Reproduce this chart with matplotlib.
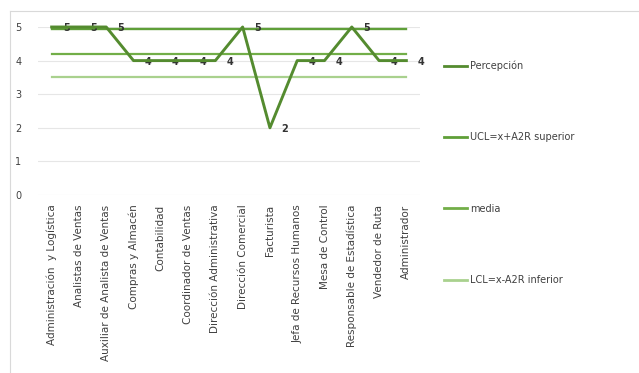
import numpy as np
import matplotlib.pyplot as plt
from matplotlib.lines import Line2D

plt.rcParams['font.family'] = ['DejaVu Sans']

areas = ['Administración  y Logística', 'Analistas de Ventas', 'Auxiliar de Analista de Ventas',
         'Compras y Almacén', 'Contabilidad', 'Coordinador de Ventas', 'Dirección Administrativa',
         'Dirección Comercial', 'Facturista', 'Jefa de Recursos Humanos', 'Mesa de Control',
         'Responsable de Estadística', 'Vendedor de Ruta', 'Administrador']
percepcion = [5, 5, 5, 4, 4, 4, 4, 5, 2, 4, 4, 5, 4, 4]
ucl = 4.93
media = 4.21
lcl = 3.50

c_perc = '#548b2f'
c_ucl = '#5f9f38'
c_media = '#72ae48'
c_lcl = '#a9d18e'

fig = plt.figure(figsize=(6.39, 3.73), dpi=100)
ax = fig.add_axes([38 / 639, 1 - 195 / 373, (420 - 38) / 639, (195 - 27) / 373])

x = np.arange(len(areas))
n = len(areas)
ax.plot(x, [ucl] * n, color=c_ucl, lw=1.7, zorder=3)
ax.plot(x, [media] * n, color=c_media, lw=1.6, zorder=3)
ax.plot(x, [lcl] * n, color=c_lcl, lw=1.6, zorder=3)
ax.plot(x, percepcion, color=c_perc, lw=2.1, zorder=4, clip_on=False)

for xi, v in zip(x, percepcion):
    ax.annotate(str(v), (xi, v), xytext=(8, -1), textcoords='offset points',
                ha='left', va='center', fontsize=7, fontweight='bold', color='#333333')

ax.set_xlim(-0.5, n - 0.5)
ax.set_ylim(0, 5)
ax.set_yticks(range(6))
ax.set_xticks(x)
ax.set_xticklabels(areas, rotation=90, fontsize=7.5, color='#404040')
ax.tick_params(axis='y', labelsize=7, colors='#404040', length=0, pad=12)
ax.tick_params(axis='x', length=0, pad=7)
ax.grid(axis='y', color='#e6e6e6', lw=0.8)
ax.set_axisbelow(True)
for s in ax.spines.values():
    s.set_visible(False)

handles = [Line2D([], [], color=c, lw=2.0) for c in (c_perc, c_ucl, c_media, c_lcl)]
labels = ['Percepción', 'UCL=x+A2R superior', 'media', 'LCL=x-A2R inferior']
leg = fig.legend(handles, labels, loc='upper left', bbox_to_anchor=(435 / 639, 1 - 52 / 373),
                 frameon=False, fontsize=7, labelspacing=6.3, handlelength=2.4,
                 handletextpad=0.3, labelcolor='#404040')

# chart area frame (top and left edges visible)
fig.add_artist(Line2D([10 / 639, 1], [1 - 10.5 / 373] * 2, color='#d9d9d9', lw=0.8))
fig.add_artist(Line2D([10 / 639] * 2, [0, 1 - 10.5 / 373], color='#d9d9d9', lw=0.8))

fig.savefig('out.png', dpi=100)
